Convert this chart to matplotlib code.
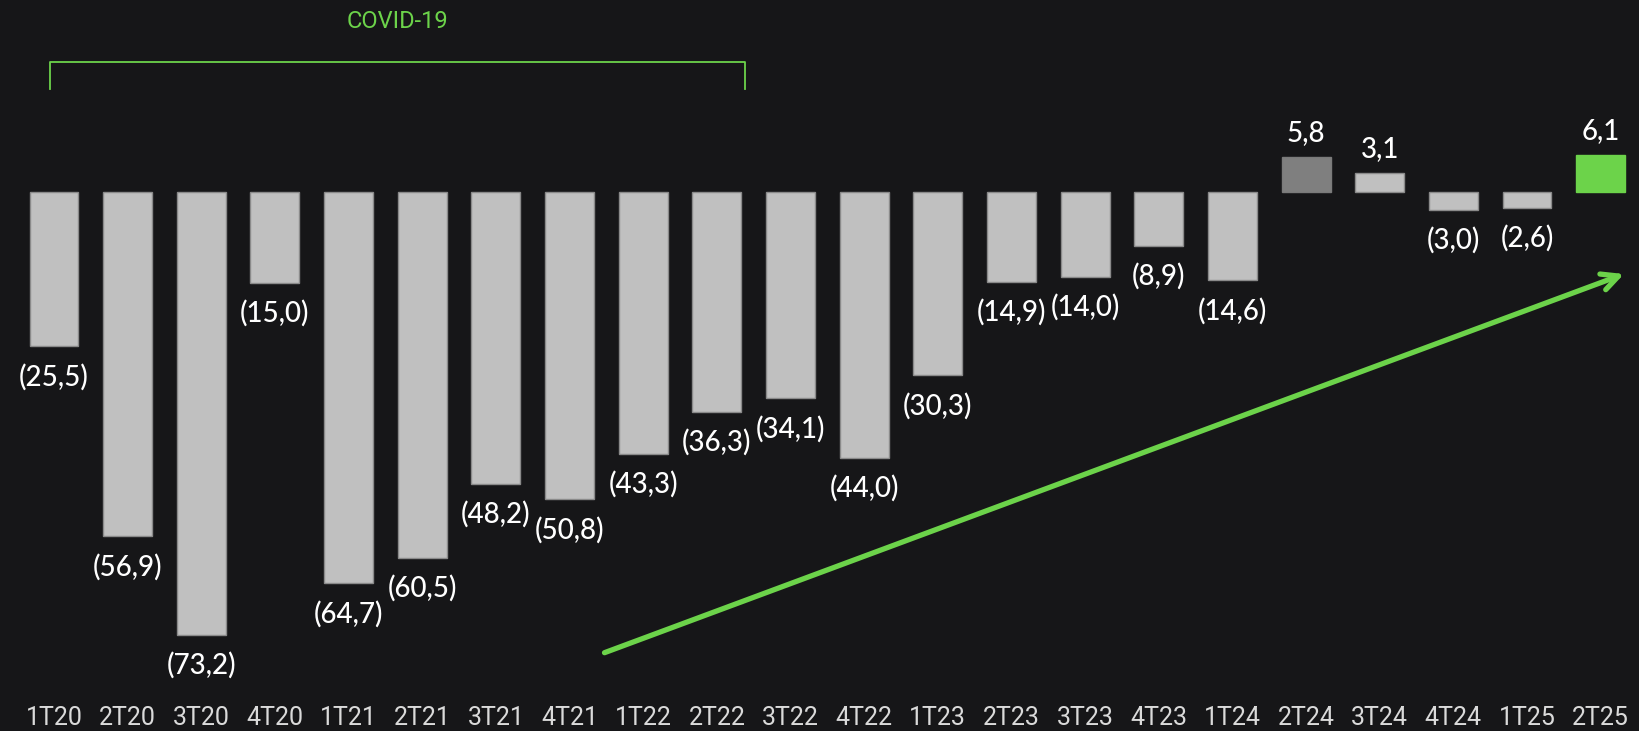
import matplotlib
matplotlib.use("Agg")
import matplotlib.pyplot as plt

categories = ["1T20", "2T20", "3T20", "4T20", "1T21", "2T21", "3T21", "4T21",
              "1T22", "2T22", "3T22", "4T22", "1T23", "2T23", "3T23", "4T23",
              "1T24", "2T24", "3T24", "4T24", "1T25", "2T25"]
values = [-25.5, -56.9, -73.2, -15.0, -64.7, -60.5, -48.2, -50.8,
          -43.3, -36.3, -34.1, -44.0, -30.3, -14.9, -14.0, -8.9,
          -14.6, 5.8, 3.1, -3.0, -2.6, 6.1]

BG = "#161618"
GREY = "#c0c0c0"
DARK = "#7f7f7f"
GREEN = "#6cd34a"

colors = [GREY] * len(values)
colors[17] = DARK
colors[-1] = GREEN
edges = ["#8a8a8a"] * len(values)
edges[17] = "#7a7a7a"
edges[-1] = GREEN

fig = plt.figure(figsize=(16.4, 7.31), dpi=100, facecolor=BG)
ax = fig.add_axes([0, 36 / 731, 1, 1 - 36 / 731])
ax.set_facecolor(BG)

x = list(range(len(values)))
ax.bar(x, values, width=0.665, color=colors, edgecolor=edges, linewidth=1)

lab_font = dict(color="white", fontsize=20, family=["Lato", "DejaVu Sans"],
                fontweight="medium")
for xi, v in zip(x, values):
    txt = f"{abs(v):.1f}".replace(".", ",")
    if v < 0:
        txt = f"({txt})"
        ax.annotate(txt, (xi, v), xytext=(0, -17), textcoords="offset pixels",
                    ha="center", va="top", **lab_font)
    else:
        ax.annotate(txt, (xi, v), xytext=(0, 11), textcoords="offset pixels",
                    ha="center", va="bottom", **lab_font)

ax.set_xlim(-54 / 73.65, (1640 - 54) / 73.65)
ax.set_ylim(-(695 - 192) / 6.05, 192 / 6.05)
ax.set_xticks(x)
ax.set_xticklabels(categories, fontsize=18, color="#dadada",
                   family=["Roboto", "DejaVu Sans"], fontweight="normal")
ax.tick_params(axis="x", length=0, pad=8)
ax.set_yticks([])
for s in ax.spines.values():
    s.set_visible(False)

# COVID-19 bracket
y_br = (192 - 62) / 6.05
y_br_low = (192 - 89) / 6.05
xl, xr = -0.05, 9.38
ax.plot([xl, xl, xr, xr], [y_br_low, y_br, y_br, y_br_low], color=GREEN,
        linewidth=1.3, clip_on=False)
ax.text((xl + xr) / 2, (192 - 22) / 6.05, "COVID-19", ha="center", va="center",
        color=GREEN, fontsize=17, family=["Roboto", "DejaVu Sans"])

# trend arrow
x0 = (604.5 - 54) / 73.65
y0 = (192 - 652.7) / 6.05
x1 = (1624 - 54) / 73.65
y1 = (192 - 274) / 6.05
ax.annotate("", xy=(x1, y1), xytext=(x0, y0),
            arrowprops=dict(arrowstyle="->,head_length=1.2,head_width=0.6",
                            color=GREEN, linewidth=3.8, shrinkA=0, shrinkB=0))

fig.savefig("out.png", dpi=100, facecolor=BG)
